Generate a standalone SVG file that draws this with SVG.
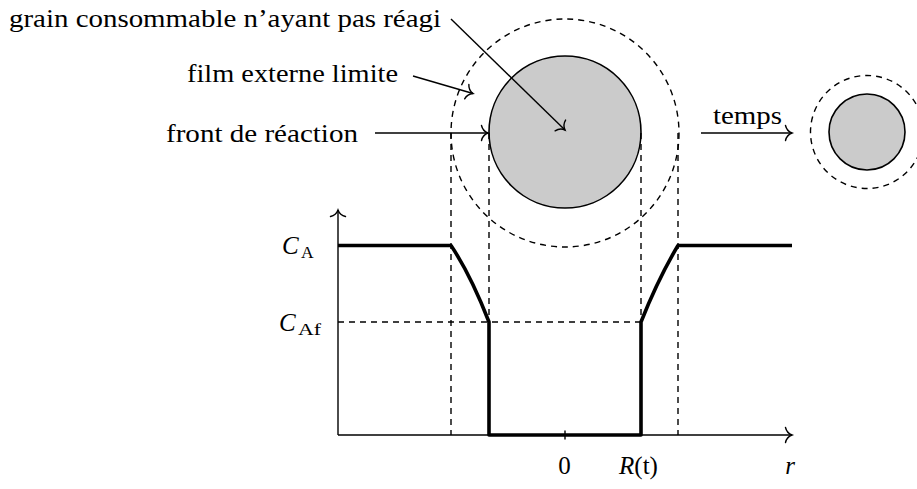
<svg xmlns="http://www.w3.org/2000/svg" width="917" height="489" viewBox="0 0 917 489">
<style>
text{font-family:"Liberation Serif","DejaVu Serif",serif;font-size:25px;fill:#000}
.it{font-style:italic}
.sub{font-size:17.5px}
.thin{stroke:#000;stroke-width:1.4;fill:none}
.dash{stroke:#000;stroke-width:1.4;fill:none;stroke-dasharray:6 5}
.thick{stroke:#000;stroke-width:3.6;fill:none;stroke-linejoin:round}
.grain{fill:#cbcbcb;stroke:#000;stroke-width:1.6}
</style>
<defs>
<marker id="to" markerUnits="userSpaceOnUse" viewBox="-9 -9 11 18" refX="0" refY="0" markerWidth="11" markerHeight="18" orient="auto" overflow="visible">
<path d="M -6.5 -7.5 C -5.5 -3.2 -2.2 -0.8 0 0 C -2.2 0.8 -5.5 3.2 -6.5 7.5" fill="none" stroke="#000" stroke-width="1.4" stroke-linecap="round"/>
</marker>
</defs>
<rect width="917" height="489" fill="#fff"/>

<g id="film-big"><circle cx="565" cy="133" r="114" class="dash"/></g>
<g id="grain-big"><circle cx="565" cy="132" r="76" class="grain"/></g>
<g id="film-small"><circle cx="867" cy="132" r="56.5" class="dash"/></g>
<g id="grain-small"><circle cx="867" cy="132" r="38" class="grain"/></g>

<g id="guides">
<line x1="451" y1="133" x2="451" y2="435" class="dash"/>
<line x1="489" y1="133" x2="489" y2="435" class="dash"/>
<line x1="641" y1="133" x2="641" y2="435" class="dash"/>
<line x1="678" y1="133" x2="678" y2="435" class="dash"/>
<line x1="338" y1="322" x2="641" y2="322" class="dash"/>
</g>

<g id="axes">
<line x1="338" y1="435" x2="338" y2="210" class="thin" marker-end="url(#to)"/>
<line x1="338" y1="435" x2="792" y2="435" class="thin" marker-end="url(#to)"/>
<line x1="565" y1="430.5" x2="565" y2="439.5" class="thin"/>
</g>

<g id="profile">
<path class="thick" d="M 338 245.5 L 451 245.5 Q 470.5 274.5 489 322 L 489 435 L 641 435 L 641 322 Q 658.5 278 678 245.5 L 792 245.5"/>
</g>

<g id="connectors">
<line x1="451" y1="19" x2="565" y2="130" class="thin" marker-end="url(#to)"/>
<line x1="413" y1="76" x2="473" y2="93.5" class="thin" marker-end="url(#to)"/>
<line x1="375" y1="133" x2="488" y2="133" class="thin" marker-end="url(#to)"/>
<line x1="701" y1="133" x2="792" y2="133" class="thin" marker-end="url(#to)"/>
</g>

<g id="labels">
<text x="9" y="27" textLength="432" lengthAdjust="spacingAndGlyphs">grain consommable n’ayant pas réagi</text>
<text x="187" y="82" textLength="211" lengthAdjust="spacingAndGlyphs">film externe limite</text>
<text x="166" y="142" textLength="192" lengthAdjust="spacingAndGlyphs">front de réaction</text>
<text x="713" y="124" textLength="69" lengthAdjust="spacingAndGlyphs">temps</text>
<text x="282" y="254" class="it">C</text><text x="301" y="258" class="sub">A</text>
<text x="279" y="330.5" class="it">C</text><text x="298" y="334.5" class="sub" textLength="23" lengthAdjust="spacingAndGlyphs">Af</text>
<text x="564.5" y="474" text-anchor="middle">0</text>
<text x="638.5" y="474" text-anchor="middle"><tspan class="it">R</tspan>(t)</text>
<text x="790" y="474" class="it" text-anchor="middle">r</text>
</g>
</svg>
